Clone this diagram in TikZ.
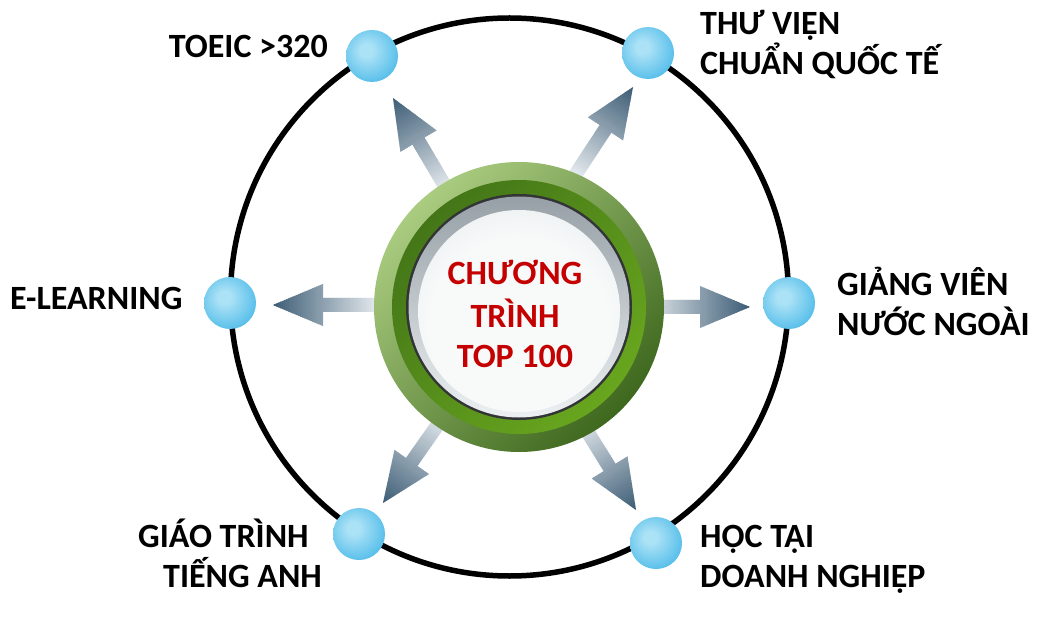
\documentclass[tikz,border=0pt]{standalone}
\usepackage{fontspec}
\setmainfont{Carlito}
\definecolor{glight}{RGB}{170,204,128}
\definecolor{gdark}{RGB}{62,104,30}
\definecolor{g2dark}{RGB}{68,118,24}
\definecolor{g2bright}{RGB}{104,166,30}
\definecolor{ringline}{RGB}{50,52,54}
\definecolor{silvtop}{RGB}{150,160,166}
\definecolor{silvbot}{RGB}{236,240,242}
\definecolor{disc1}{RGB}{248,250,250}
\definecolor{disc2}{RGB}{214,220,223}
\definecolor{bl1}{RGB}{172,226,246}
\definecolor{bl2}{RGB}{100,196,236}
\definecolor{bl3}{RGB}{28,164,224}
\definecolor{arrlight}{RGB}{238,242,245}
\definecolor{arrdark}{RGB}{58,90,115}
\definecolor{redtxt}{RGB}{196,0,0}
\pgfdeclareradialshading{ballsh}{\pgfpoint{-6bp}{6bp}}{color(0bp)=(bl1); color(6bp)=(bl1); color(26bp)=(bl2); color(44bp)=(bl3); color(70bp)=(bl3)}
\pgfdeclareradialshading{discsh}{\pgfpoint{0bp}{-6bp}}{color(0bp)=(disc1); color(22bp)=(disc1); color(50bp)=(disc2); color(70bp)=(disc2)}
\newcommand\gradarrow[2]{%
  \begin{scope}[shift={(#1)}, rotate=#2]
    \clip (0,0) -- (-50,21) -- (-50,7) -- (-112,7) -- (-112,-7) -- (-50,-7) -- (-50,-21) -- cycle;
    \foreach \i in {0,...,56}{%
      \pgfmathtruncatemacro\p{\i*100/56}%
      \fill[arrdark!\p!arrlight] ({-112+2*\i},-22) rectangle ({-112+2*\i+2.6},22);
    }
  \end{scope}}
\begin{document}
\begin{tikzpicture}[x=1pt,y=-1pt,
  ball/.style={circle, minimum size=52pt, inner sep=0pt, shade, shading=ballsh},
  lab/.style={font=\fontsize{34}{40}\selectfont\bfseries, text=black, inner sep=0pt},
  ctxt/.style={font=\fontsize{34}{40}\selectfont\bfseries, text=redtxt, inner sep=0pt}]
\fill[white] (0,0) rectangle (1044,628);
\path[use as bounding box] (0,0) rectangle (1044,628);

% big ring
\coordinate (bigc) at (509.5,297);
\draw[line width=5.5pt] (bigc) circle[radius=279pt];

% arrow tips
\coordinate (t1) at (393,98);
\coordinate (t2) at (633,87);
\coordinate (t3) at (273,305);
\coordinate (t4) at (750,307);
\coordinate (t5) at (383,503);
\coordinate (t6) at (636,510);
\gradarrow{t1}{120.6}
\gradarrow{t2}{56.7}
\gradarrow{t3}{180}
\gradarrow{t4}{0}
\gradarrow{t5}{235}
\gradarrow{t6}{-58.2}

% central button
\node[circle, minimum size=290pt, inner sep=0pt] (ctr) at (519,307) {};
\shade[top color=glight, bottom color=gdark, shading angle=45] (ctr.center) circle[radius=145pt];
\shade[top color=g2dark, bottom color=g2bright, shading angle=45] (ctr.center) circle[radius=127pt];
\fill[ringline] (ctr.center) circle[radius=113pt];
\shade[top color=silvtop, bottom color=silvbot] (ctr.center) circle[radius=110.5pt];
\shade[shading=discsh] ([yshift=-4pt]ctr.center) circle[radius=101pt];

\node[ctxt, anchor=base] (c1) at (515,285) {CHƯƠNG};
\node[ctxt, anchor=base] (c2) at (515,327) {TRÌNH};
\node[ctxt, anchor=base] (c3) at (515,367) {TOP 100};

% balls
\node[ball] (b1) at (372,56) {};
\node[ball] (b2) at (648,53) {};
\node[ball] (b3) at (230,303) {};
\node[ball] (b4) at (789,303) {};
\node[ball] (b5) at (359,534) {};
\node[ball] (b6) at (656,543) {};

% labels
\node[lab, anchor=base east] (l1) at (328,58) {TOEIC >320};
\node[lab, anchor=base west] (l2a) at (700,35) {THƯ VIỆN};
\node[lab, anchor=base west] (l2b) at (700,75) {CHUẨN QUỐC TẾ};
\node[lab, anchor=base west] (l3) at (10,309) {E-LEARNING};
\node[lab, anchor=base west] (l4a) at (837,295) {GIẢNG VIÊN};
\node[lab, anchor=base west] (l4b) at (837,335) {NƯỚC NGOÀI};
\node[lab, anchor=base west] (l5a) at (138,547) {GIÁO TRÌNH};
\node[lab, anchor=base west] (l5b) at (163,587) {TIẾNG ANH};
\node[lab, anchor=base west] (l6a) at (700,547) {HỌC TẠI};
\node[lab, anchor=base west] (l6b) at (700,587) {DOANH NGHIỆP};
\end{tikzpicture}
\end{document}
